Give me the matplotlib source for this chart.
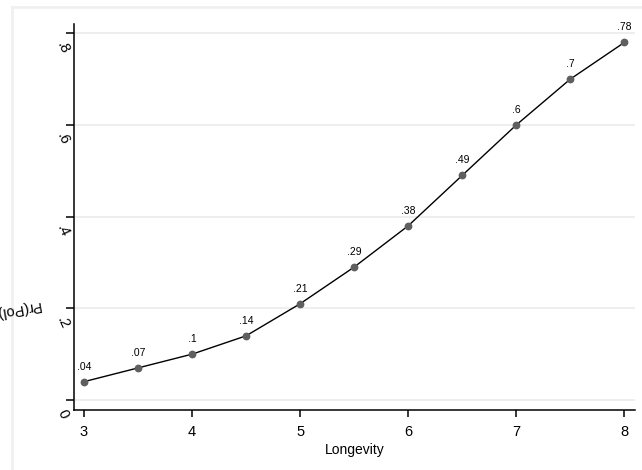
import numpy as np
import matplotlib as mpl
mpl.use('Agg')
import matplotlib.pyplot as plt
from matplotlib.lines import Line2D

mpl.rcParams['font.family'] = ['Liberation Sans', 'DejaVu Sans']

longevity = [3, 3.5, 4, 4.5, 5, 5.5, 6, 6.5, 7, 7.5, 8]
prob = [0.04, 0.07, 0.10, 0.14, 0.21, 0.29, 0.38, 0.49, 0.60, 0.70, 0.78]
point_labels = ['.04', '.07', '.1', '.14', '.21', '.29', '.38', '.49', '.6', '.7', '.78']
xticks = [3, 4, 5, 6, 7, 8]
yticks = [0, 0.2, 0.4, 0.6, 0.8]
ytick_labels = ['0', '.2', '.4', '.6', '.8']

W, H = 642, 470
fig = plt.figure(figsize=(W / 100, H / 100), dpi=100, facecolor='white')

# light grey outer frame (left and top edges)
fig.add_artist(Line2D([12 / W, 12 / W], [0, 1 - 7 / H], color='#efefef', lw=1.8, transform=fig.transFigure))
fig.add_artist(Line2D([12 / W, 1], [1 - 7 / H, 1 - 7 / H], color='#efefef', lw=1.8, transform=fig.transFigure))

ax = fig.add_axes([74 / W, 1 - 410 / H, (635 - 74) / W, (410 - 24) / H])
ax.set_xlim(2.9075, 8.099)
ax.set_ylim(-0.0218, 0.8203)

for v in yticks:
    ax.axhline(v, color='#eaeaea', lw=1.1, zorder=0)

ax.plot(longevity, prob, color='black', lw=1.0, zorder=2)
ax.plot(longevity, prob, 'o', color='#5f5f5f', ms=4.6, mec='#5f5f5f', zorder=3)
for x, y, s in zip(longevity, prob, point_labels):
    ax.annotate(s, xy=(x, y), xytext=(0, 15), textcoords='offset pixels',
                ha='center', va='center', fontsize=7.5)

for side in ['top', 'right']:
    ax.spines[side].set_visible(False)
for side in ['left', 'bottom']:
    ax.spines[side].set_linewidth(1.1)

ax.set_xticks(xticks)
ax.set_xticklabels([str(t) for t in xticks], fontsize=10.5)
ax.tick_params(axis='x', length=5, width=1.1, pad=6)
ax.set_yticks(yticks)
ax.set_yticklabels([])
ax.tick_params(axis='y', length=6, width=1.1)
for v, s in zip(yticks, ytick_labels):
    ax.annotate(s, xy=(0, v), xycoords=('axes fraction', 'data'),
                xytext=(-11, -14), textcoords='offset pixels',
                rotation=-65, ha='center', va='center', fontsize=10.5)

ax.set_xlabel('Longevity', fontsize=10, labelpad=3)

# y title sits partly outside the canvas, as in the original
fig.text(40 / W, 1 - 305 / H, 'Pr(Pol)', rotation=190, rotation_mode='anchor',
         ha='left', va='center', fontsize=10.5)

fig.savefig('out.png', dpi=100)
